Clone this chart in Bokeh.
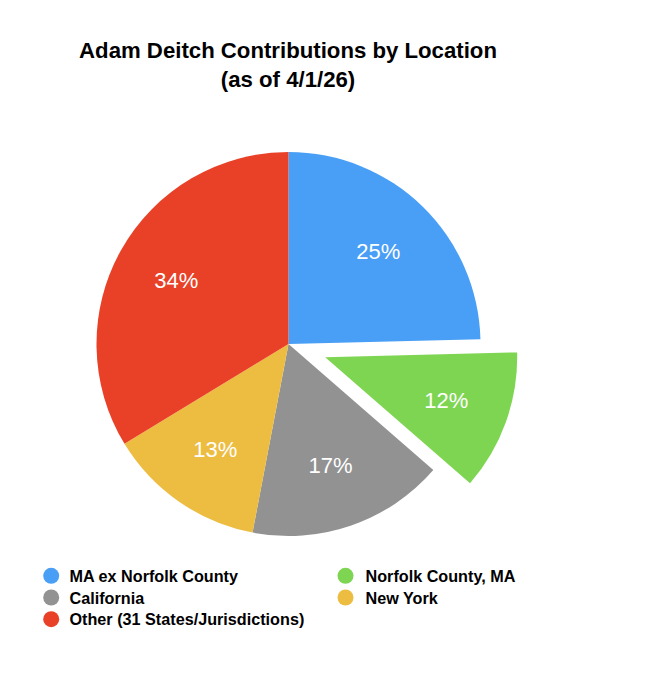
import numpy as np
from bokeh.plotting import figure
from bokeh.models import Range1d, ColumnDataSource
from bokeh.core.properties import value
from bokeh.embed import file_html
from bokeh.resources import INLINE

# ---- data ----
title_lines = ["Adam Deitch Contributions by Location", "(as of 4/1/26)"]
categories = ["MA ex Norfolk County", "Norfolk County, MA", "California",
              "New York", "Other (31 States/Jurisdictions)"]
shares = [24.6, 11.8, 16.6, 13.3, 33.7]
pct_labels = ["25%", "12%", "17%", "13%", "34%"]
colors = ["#499EF6", "#7ED552", "#929292", "#EDBD42", "#E84127"]

# ---- layout constants ----
FONT = "Liberation Sans"
PAGE_H = 680
W, H = 637, 664
CX, CY = 288.0, 343.5          # page pixels
R = 192.0
EXPLODE_INDEX = 1
EXPLODE_DIST = 39.0
LABEL_FRAC = 0.67


def Y(py):
    return PAGE_H - py


p = figure(width=W, height=H, x_range=Range1d(0, W), y_range=Range1d(PAGE_H - H, PAGE_H),
           output_backend="svg", toolbar_location=None,
           x_axis_location=None, y_axis_location=None,
           min_border=0, outline_line_color=None)
p.grid.visible = False
p.background_fill_color = "white"
p.border_fill_color = "white"

# ---- pie ----
fr = np.array(shares) / np.sum(shares)
cum = np.concatenate([[0.0], np.cumsum(fr)])
start = np.pi / 2 - 2 * np.pi * cum[1:]
end = np.pi / 2 - 2 * np.pi * cum[:-1]
mid = (start + end) / 2
dist = np.array([EXPLODE_DIST if i == EXPLODE_INDEX else 0.0 for i in range(len(shares))])
xs = CX + dist * np.cos(mid)
ys = Y(CY) + dist * np.sin(mid)

src = ColumnDataSource(dict(x=xs, y=ys, start=start, end=end, color=colors,
                            lx=xs + LABEL_FRAC * R * np.cos(mid),
                            ly=ys + LABEL_FRAC * R * np.sin(mid),
                            label=pct_labels))
p.wedge(x="x", y="y", radius=R, start_angle="start", end_angle="end",
        direction="anticlock", fill_color="color", line_color=None, source=src)
p.text(x="lx", y="ly", text="label", source=src, text_color="white",
       text_font=value(FONT), text_font_size="22px",
       text_align="center", text_baseline="middle")

# ---- title ----
p.text(x=[287.5, 287.5], y=[Y(50.0), Y(78.5)], text=title_lines,
       text_font=value(FONT), text_font_style="bold", text_font_size="22.2px",
       text_color="black", text_align="center", text_baseline="middle")

# ---- legend (2 columns, row-major) ----
col_marker_x = [50.7, 345.0]
col_text_x = [69.0, 365.0]
row_mid_y = [575.3, 597.0, 618.7]
lg_mx, lg_my, lg_tx, lg_ty = [], [], [], []
for i in range(len(categories)):
    r, c = divmod(i, 2)
    lg_mx.append(col_marker_x[c])
    lg_my.append(Y(row_mid_y[r]))
    lg_tx.append(col_text_x[c])
    lg_ty.append(Y(row_mid_y[r]))
p.scatter(x=lg_mx, y=lg_my, size=16, marker="circle", fill_color=colors, line_color=None)
p.text(x=lg_tx, y=lg_ty, text=categories, text_font=value(FONT), text_font_style="bold",
       text_font_size="16.2px", text_color="black", text_align="left",
       text_baseline="middle")

open("out.html", "w").write(file_html(p, INLINE))
